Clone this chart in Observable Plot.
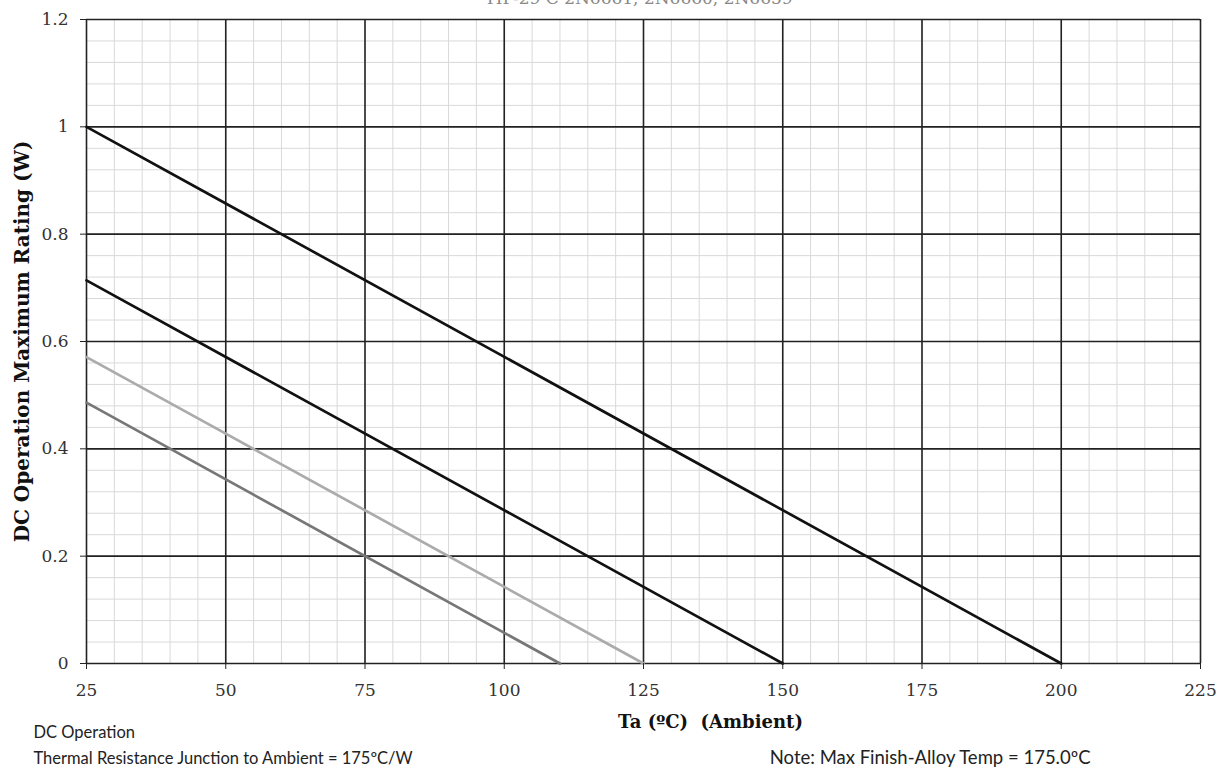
<!DOCTYPE html>
<html><head><meta charset="utf-8">
<script src="https://cdn.jsdelivr.net/npm/d3@7"></script>
<script src="https://cdn.jsdelivr.net/npm/@observablehq/plot@0.6"></script>
<style>
body{margin:0;background:#fff;} svg{display:block;}
g[aria-label="x-axis tick label"], g[aria-label="y-axis tick label"]{font-size:17px;font-family:"DejaVu Serif";fill:#333;}
</style>
</head><body><div id="chart"></div>
<script>
const seriesNames = ["1.0 W", "0.714 W", "0.571 W", "0.486 W"];
const startTemp = [25, 25, 25, 25];
const startPower = [1.0, 0.714, 0.571, 0.486];
const endTemp = [200, 150, 125, 110];
const endPower = [0, 0, 0, 0];
const seriesColors = ["#111111", "#111111", "#ababab", "#777777"];
const xTicks = [25, 50, 75, 100, 125, 150, 175, 200, 225];
const yTicks = [0, 0.2, 0.4, 0.6, 0.8, 1, 1.2];
const xMinor = d3.range(25, 226, 5);
const yMinor = d3.range(0, 1.2001, 0.04);
const titleText = "TIP-29 C 2N6661, 2N6660, 2N6659";
const yLabel = "DC Operation Maximum Rating (W)";
const xLabel = "Ta (ºC)  (Ambient)";
const footLeft = ["DC Operation", "Thermal Resistance Junction to Ambient = 175ºC/W"];
const footRight = "Note: Max Finish-Alloy Temp = 175.0ºC";

const lines = seriesNames.flatMap((s, i) => [
  {series: s, t: startTemp[i], p: startPower[i]},
  {series: s, t: endTemp[i], p: endPower[i]}
]);

const serif = "DejaVu Serif";
const chart = Plot.plot({
  width: 1220, height: 774,
  marginLeft: 86, marginRight: 20, marginTop: 19, marginBottom: 111,
  style: {fontFamily: serif, fontSize: "16px", color: "#222"},
  x: {domain: [25, 225]},
  y: {domain: [0, 1.2]},
  color: {domain: seriesNames, range: seriesColors},
  marks: [
    Plot.ruleX(xMinor, {stroke: "#d9d9d9", strokeWidth: 1}),
    Plot.ruleY(yMinor, {stroke: "#d9d9d9", strokeWidth: 1}),
    Plot.ruleX(xTicks, {stroke: "#222", strokeWidth: 1.6}),
    Plot.ruleY(yTicks, {stroke: "#222", strokeWidth: 1.6}),
    Plot.line(lines, {x: "t", y: "p", z: "series", stroke: "series", strokeWidth: 2.7}),
    Plot.axisX({ticks: xTicks, tickSize: 6, tickPadding: 14, label: null, tickFormat: d => d, stroke: "#222"}),
    Plot.axisY({ticks: yTicks, tickSize: 6, tickPadding: 12, label: null, tickFormat: d => String(+d.toFixed(1)), stroke: "#222"}),
    Plot.text([yLabel], {frameAnchor: "left", textAnchor: "middle", rotate: -90, dx: -64, fontWeight: "bold", fontSize: 20, fill: "#111"}),
    Plot.text([xLabel], {frameAnchor: "bottom-left", textAnchor: "middle", dx: 624, dy: 64, fontWeight: "bold", fontSize: 18, fill: "#111"}),
    Plot.text([footLeft[0]], {frameAnchor: "bottom-left", textAnchor: "start", dx: -53, dy: 74, fontFamily: "Lato", fontSize: 16.5, fill: "#222"}),
    Plot.text([footLeft[1]], {frameAnchor: "bottom-left", textAnchor: "start", dx: -53, dy: 100, fontFamily: "Lato", fontSize: 16.5, fill: "#222"}),
    Plot.text([footRight], {frameAnchor: "bottom-right", textAnchor: "end", dx: -110, dy: 100, fontFamily: "Lato", fontSize: 18.5, fill: "#222"}),
    Plot.text([titleText], {frameAnchor: "top", dy: -28, dx: -5, fontSize: 17, fill: "#888"})
  ]
});
document.getElementById("chart").appendChild(chart);
</script>
</body></html>
